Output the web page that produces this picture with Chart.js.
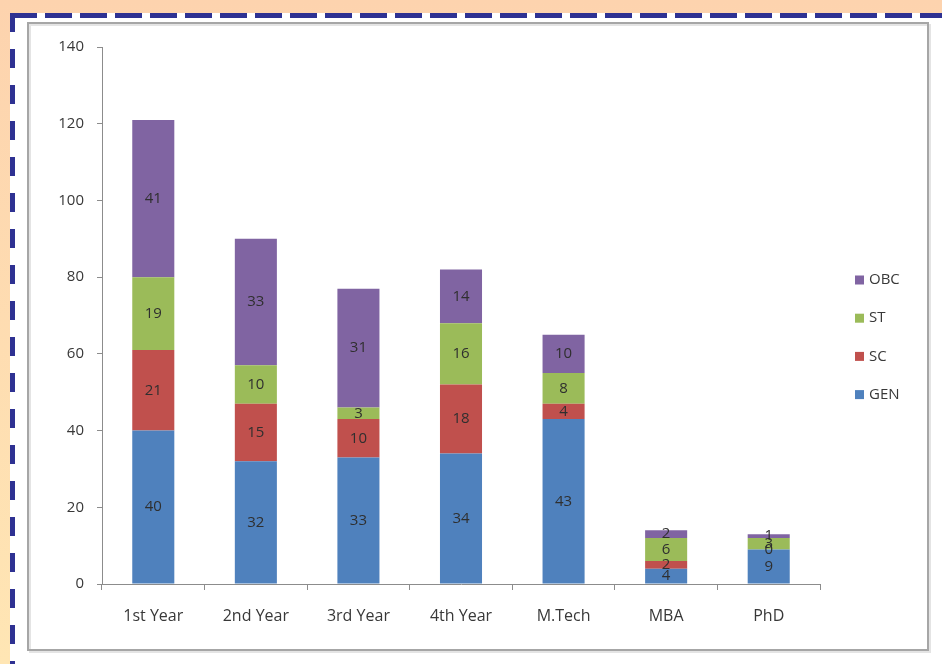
<!DOCTYPE html>
<html>
<head>
<meta charset="utf-8">
<script src="https://cdn.jsdelivr.net/npm/chart.js@4/dist/chart.umd.min.js"></script>
<style>
  html, body { margin: 0; padding: 0; background: #fdd6b1; }
  canvas { display: block; }
</style>
</head>
<body>
<canvas id="myChart" width="942" height="664"></canvas>
<script>
let courses = ['1st Year', '2nd Year', '3rd Year', '4th Year', 'M.Tech', 'MBA', 'PhD'];
let gen = [40, 32, 33, 34, 43, 4, 9];
let sc = [21, 15, 10, 18, 4, 2, 0];
let st = [19, 10, 3, 16, 8, 6, 3];
let obc = [41, 33, 31, 14, 10, 2, 1];
let yTicks = [0, 20, 40, 60, 80, 100, 120, 140];

const FONT = '"Open Sans", "Liberation Sans", sans-serif';
const TEXT = '#383838';
const AXIS = '#8c8c8c';

// page frame: peach background, dashed blue border, grey chart box
let framePlugin = {
  id: 'frame',
  beforeDraw(chart) {
    let ctx = chart.ctx;
    let w = chart.width, h = chart.height;
    ctx.save();
    let grad = ctx.createLinearGradient(0, 0, 0, h);
    grad.addColorStop(0, '#fdd3ae');
    grad.addColorStop(1, '#ffe6b4');
    ctx.fillStyle = grad;
    ctx.fillRect(0, 0, w, h);

    ctx.fillStyle = '#ffffff';
    ctx.fillRect(10, 13, w - 10, h - 13);

    ctx.strokeStyle = '#2e3192';
    ctx.lineWidth = 5;
    ctx.setLineDash([27, 8]);
    ctx.beginPath();
    ctx.moveTo(10, 15.5);
    ctx.lineTo(w, 15.5);
    ctx.stroke();

    ctx.setLineDash([19, 17]);
    ctx.beginPath();
    ctx.moveTo(12.5, 13);
    ctx.lineTo(12.5, h);
    ctx.stroke();

    // chart box with a soft shadow
    ctx.setLineDash([]);
    ctx.strokeStyle = '#e4e4e4';
    ctx.lineWidth = 2;
    ctx.strokeRect(30, 25, 900, 627);
    ctx.strokeStyle = '#a6a6a6';
    ctx.lineWidth = 2;
    ctx.strokeRect(28, 23, 900, 627);
    ctx.restore();
  }
};

// value of each segment written in its middle
let valueLabels = {
  id: 'valueLabels',
  afterDatasetsDraw(chart) {
    let ctx = chart.ctx;
    ctx.save();
    ctx.font = '15px ' + FONT;
    ctx.fillStyle = '#2f2f2f';
    ctx.textAlign = 'center';
    ctx.textBaseline = 'middle';
    chart.data.datasets.forEach((ds, i) => {
      let meta = chart.getDatasetMeta(i);
      meta.data.forEach((bar, j) => {
        let y = (bar.y + bar.base) / 2;
        ctx.fillText(String(ds.data[j]), bar.x, y);
      });
    });
    ctx.restore();
  }
};

// legend on the right, top series first
let sideLegend = {
  id: 'sideLegend',
  afterDraw(chart) {
    let ctx = chart.ctx;
    let sets = chart.data.datasets.slice().reverse();
    ctx.save();
    ctx.font = '15px ' + FONT;
    ctx.textBaseline = 'middle';
    ctx.textAlign = 'left';
    sets.forEach((ds, k) => {
      let cy = 280 + k * 38.2;
      ctx.fillStyle = ds.backgroundColor;
      ctx.fillRect(855, cy - 4.5, 9, 9);
      ctx.fillStyle = TEXT;
      ctx.fillText(ds.label, 869, cy);
    });
    ctx.restore();
  }
};

let ctx = document.getElementById('myChart').getContext('2d');

let chart = new Chart(ctx, {
  type: 'bar',
  data: {
    labels: courses,
    datasets: [
      { label: 'GEN', data: gen, backgroundColor: '#4f81bd' },
      { label: 'SC', data: sc, backgroundColor: '#c0504d' },
      { label: 'ST', data: st, backgroundColor: '#9bbb59' },
      { label: 'OBC', data: obc, backgroundColor: '#8064a2' }
    ]
  },
  options: {
    responsive: false,
    animation: false,
    devicePixelRatio: 1,
    layout: { padding: { left: 28, top: 47, right: 122, bottom: 14 } },
    datasets: { bar: { barPercentage: 0.41, categoryPercentage: 1 } },
    plugins: {
      legend: { display: false },
      tooltip: { enabled: false }
    },
    scales: {
      x: {
        stacked: true,
        afterFit: (scale) => { scale.height = 66; },
        grid: { drawOnChartArea: false, drawTicks: true, tickLength: 6, color: AXIS, offset: true },
        border: { color: AXIS, width: 1 },
        ticks: { color: TEXT, font: { family: FONT, size: 16 }, padding: 17, maxRotation: 0 }
      },
      y: {
        stacked: true,
        min: 0,
        max: 140,
        afterFit: (scale) => { scale.width = 74; },
        afterBuildTicks: (scale) => { scale.ticks = yTicks.map(v => ({ value: v })); },
        grid: { drawOnChartArea: false, drawTicks: true, tickLength: 5, color: AXIS },
        border: { color: AXIS, width: 1 },
        ticks: { color: TEXT, font: { family: FONT, size: 15 }, padding: 13 }
      }
    }
  },
  plugins: [framePlugin, valueLabels, sideLegend]
});
</script>
</body>
</html>
